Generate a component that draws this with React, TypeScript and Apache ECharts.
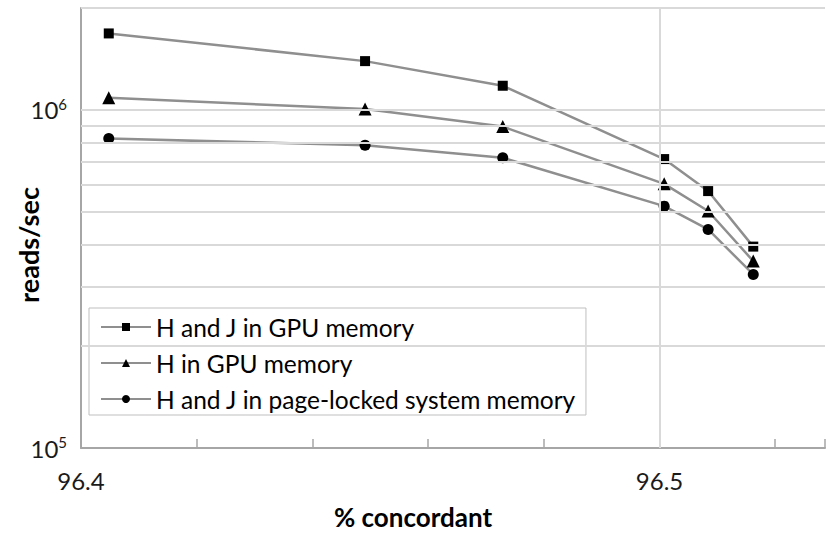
import React, { useEffect, useRef } from "react";
import * as echarts from "echarts";

const seriesNames = [
  "H and J in GPU memory",
  "H in GPU memory",
  "H and J in page-locked system memory",
];
const xValues = [96.4048, 96.4491, 96.4729, 96.5008, 96.5084, 96.5162];
const gpuHJ = [1682000, 1393000, 1178000, 715000, 575000, 394000];
const gpuH = [1085000, 1005000, 892000, 604000, 502000, 357000];
const pageLocked = [822000, 786000, 721000, 519000, 443000, 326000];
const symbols = ["rect", "triangle", "circle"];
const symbolSizes = [10, 13, 11];
const yGridValues = [200000, 300000, 400000, 500000, 600000, 700000, 800000, 900000, 1000000, 2000000];
const xGridValues = [96.5];
const xLabelValues = [96.4, 96.5];

const FONT = "Lato";

export default function App() {
  const ref = useRef<HTMLDivElement>(null);
  useEffect(() => {
    document.body.style.margin = "0";
    if (!ref.current) return;
    const chart = echarts.init(ref.current, undefined, { renderer: "svg" });
    const allData = [gpuHJ, gpuH, pageLocked];
    const series: any[] = [
      {
        type: "line",
        name: "__grid",
        data: [],
        z: 1,
        silent: true,
        markLine: {
          silent: true,
          symbol: ["none", "none"],
          label: { show: false },
          lineStyle: { color: "#d9d9d9", width: 2, type: "solid" },
          data: [
            ...yGridValues.map((v) => ({ yAxis: v })),
            ...xGridValues.map((v) => ({ xAxis: v })),
          ],
        },
      },
      ...seriesNames.map((name, i) => ({
        type: "line",
        name,
        z: 3,
        data: xValues.map((x, j) => [x, allData[i][j]]),
        symbol: symbols[i],
        symbolSize: symbolSizes[i],
        showAllSymbol: true,
        lineStyle: { color: "#8f8f8f", width: 2.5 },
        itemStyle: { color: "#000000" },
      })),
    ];
    chart.setOption({
      animation: false,
      backgroundColor: "#ffffff",
      textStyle: { fontFamily: FONT },
      grid: { left: 81, top: 8, right: 0, bottom: 85, containLabel: false },
      xAxis: {
        type: "value",
        min: 96.4,
        max: 96.5286,
        interval: 0.02,
        axisLine: { show: true, lineStyle: { color: "#a6a6a6", width: 2 } },
        axisTick: { show: true, inside: true, length: 9, lineStyle: { color: "#a6a6a6", width: 1.5 } },
        splitLine: { show: false },
        axisLabel: {
          margin: 20,
          fontSize: 24,
          color: "#1a1a1a",
          fontFamily: FONT,
          formatter: (v: number) => {
            const hit = xLabelValues.find((l) => Math.abs(l - v) < 1e-6);
            return hit !== undefined ? hit.toFixed(1) : "";
          },
        },
      },
      yAxis: {
        type: "log",
        logBase: 10,
        min: 100000,
        max: 2000000,
        axisLine: { show: true, lineStyle: { color: "#a6a6a6", width: 2 } },
        axisTick: { show: false },
        splitLine: { show: false },
        axisLabel: {
          margin: 14,
          color: "#1a1a1a",
          formatter: (v: number) => {
            const l = Math.log10(v);
            const e = Math.round(l);
            if (Math.abs(l - e) < 0.01) return `{b|10}{s|${e}}`;
            return "";
          },
          rich: {
            b: { fontSize: 24, fontFamily: FONT, color: "#1a1a1a" },
            s: { fontSize: 15, fontFamily: FONT, color: "#1a1a1a", padding: [0, 0, 12, 0] },
          },
        },
      },
      legend: {
        data: seriesNames,
        orient: "vertical",
        left: 89,
        top: 308,
        itemWidth: 50,
        itemHeight: 10,
        itemGap: 10,
        padding: [6, 10, 3, 11],
        borderColor: "#bfbfbf",
        borderWidth: 1,
        backgroundColor: "#ffffff",
        textStyle: { fontSize: 24.5, fontFamily: FONT, color: "#000000", lineHeight: 26 },
      },
      graphic: [
        {
          type: "text",
          x: 413,
          y: 517,
          style: {
            text: "% concordant",
            fontSize: 26,
            fontWeight: "bold",
            fontFamily: FONT,
            fill: "#000000",
            align: "center",
            verticalAlign: "middle",
          },
        },
        {
          type: "text",
          x: 28,
          y: 245,
          rotation: Math.PI / 2,
          style: {
            text: "reads/sec",
            fontSize: 27,
            fontWeight: "bold",
            fontFamily: FONT,
            fill: "#000000",
            align: "center",
            verticalAlign: "middle",
          },
        },
      ],
      series,
    });
    return () => chart.dispose();
  }, []);
  return <div ref={ref} style={{ width: 828, height: 533 }} />;
}
